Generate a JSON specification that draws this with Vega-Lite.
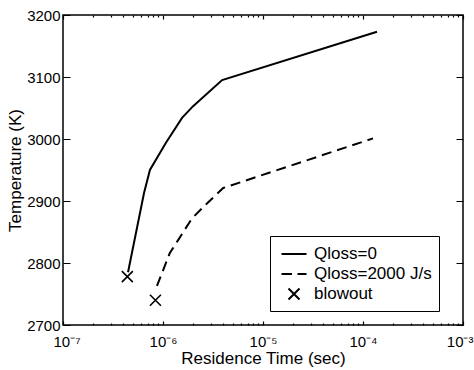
{
  "$schema": "https://vega.github.io/schema/vega-lite/v6.json",
  "width": 400,
  "height": 310,
  "autosize": {"type": "none"},
  "padding": {"left": 63, "top": 15, "right": 11, "bottom": 45},
  "background": "white",
  "config": {
    "view": {"stroke": "black", "strokeWidth": 1.5},
    "font": "Liberation Sans",
    "axis": {
      "domain": false, "ticks": false, "gridColor": "black", "gridOpacity": 1, "gridWidth": 1.2,
      "labelColor": "black", "titleColor": "black",
      "labelFont": "Liberation Sans", "titleFont": "Liberation Sans",
      "titleFontWeight": "normal", "labelOverlap": false
    }
  },
  "datasets": {
    "solid": [
      {"series": "Qloss=0", "time": 4.47e-7, "temp": 2785},
      {"series": "Qloss=0", "time": 6.46e-7, "temp": 2913},
      {"series": "Qloss=0", "time": 7.4e-7, "temp": 2950},
      {"series": "Qloss=0", "time": 1.07e-6, "temp": 2994},
      {"series": "Qloss=0", "time": 1.55e-6, "temp": 3034},
      {"series": "Qloss=0", "time": 2.0e-6, "temp": 3053},
      {"series": "Qloss=0", "time": 3.9e-6, "temp": 3095},
      {"series": "Qloss=0", "time": 1.38e-4, "temp": 3173}
    ],
    "dashed": [
      {"series": "Qloss=2000 J/s", "time": 8.7e-7, "temp": 2763},
      {"series": "Qloss=2000 J/s", "time": 1.17e-6, "temp": 2816},
      {"series": "Qloss=2000 J/s", "time": 1.95e-6, "temp": 2872},
      {"series": "Qloss=2000 J/s", "time": 2.75e-6, "temp": 2896},
      {"series": "Qloss=2000 J/s", "time": 4.0e-6, "temp": 2921},
      {"series": "Qloss=2000 J/s", "time": 1.26e-4, "temp": 3001}
    ],
    "blowout": [
      {"series": "blowout", "time": 4.4e-7, "temp": 2778},
      {"series": "blowout", "time": 8.4e-7, "temp": 2740}
    ]
  },
  "layer": [
    {
      "data": {"name": "solid"},
      "mark": {"type": "line", "color": "black", "strokeWidth": 2},
      "encoding": {
        "x": {
          "field": "time", "type": "quantitative",
          "scale": {"type": "log", "domain": [1e-7, 1e-3]},
          "axis": {
            "orient": "bottom", "title": "Residence Time (sec)", "titleFontSize": 17, "titlePadding": 1,
            "labelFontSize": 15, "labelPadding": 9, "labelFlush": true, "labelFlushOffset": 10,
            "grid": true, "gridDash": [4, 302, 4, 0],
            "values": [1e-7, 1e-6, 1e-5, 1e-4, 1e-3],
            "labelExpr": "'10⁻' + substring('⁰¹²³⁴⁵⁶⁷⁸⁹', -round(log(datum.value)/LN10), 1-round(log(datum.value)/LN10))"
          }
        },
        "y": {
          "field": "temp", "type": "quantitative",
          "scale": {"domain": [2700, 3200], "zero": false},
          "axis": {
            "orient": "left", "title": "Temperature (K)", "titleFontSize": 17, "titlePadding": 2, "format": "d",
            "labelFontSize": 15, "labelPadding": 3, "labelFlush": false,
            "grid": true, "gridDash": [7, 386, 7, 0],
            "values": [2700, 2800, 2900, 3000, 3100, 3200]
          }
        }
      }
    },
    {
      "data": {"name": "dashed"},
      "mark": {"type": "line", "color": "black", "strokeWidth": 2, "strokeDash": [10, 6]},
      "encoding": {
        "x": {
          "field": "time", "type": "quantitative",
          "scale": {"type": "log", "domain": [1e-7, 1e-3]},
          "axis": {
            "orient": "top", "title": null, "labels": false,
            "grid": true, "gridDash": [2, 306, 2, 0],
            "values": [2e-7,3e-7,4e-7,5e-7,6e-7,7e-7,8e-7,9e-7,2e-6,3e-6,4e-6,5e-6,6e-6,7e-6,8e-6,9e-6,2e-5,3e-5,4e-5,5e-5,6e-5,7e-5,8e-5,9e-5,2e-4,3e-4,4e-4,5e-4,6e-4,7e-4,8e-4,9e-4]
          }
        },
        "y": {
          "field": "temp", "type": "quantitative",
          "scale": {"domain": [2700, 3200], "zero": false},
          "axis": null
        }
      }
    },
    {
      "data": {"name": "blowout"},
      "mark": {"type": "point", "filled": false, "stroke": "black", "strokeWidth": 1.6, "size": 400, "opacity": 1},
      "encoding": {
        "x": {
          "field": "time", "type": "quantitative",
          "scale": {"type": "log", "domain": [1e-7, 1e-3]},
          "axis": null
        },
        "y": {
          "field": "temp", "type": "quantitative",
          "scale": {"domain": [2700, 3200], "zero": false},
          "axis": null
        },
        "shape": {
          "field": "series", "type": "nominal",
          "scale": {
            "domain": ["Qloss=0", "Qloss=2000 J/s", "blowout"],
            "range": ["M-1.25,0H1.25", "M-1.25,0H-0.2M0.35,0H1.25", "M-0.55,-0.55L0.55,0.55M-0.55,0.55L0.55,-0.55"]
          },
          "legend": {
            "title": null, "orient": "none", "legendX": 207, "legendY": 221,
            "strokeColor": "black", "fillColor": "white", "padding": 7,
            "labelFontSize": 17, "labelFont": "Liberation Sans", "labelColor": "black", "labelOffset": 9, "labelLimit": 300,
            "symbolSize": 400, "symbolStrokeWidth": 2, "symbolStrokeColor": "black", "symbolFillColor": "transparent",
            "symbolOffset": 6, "rowPadding": 1, "symbolOpacity": 1
          }
        }
      }
    }
  ],
  "resolve": {"axis": {"x": "independent", "y": "independent"}}
}
